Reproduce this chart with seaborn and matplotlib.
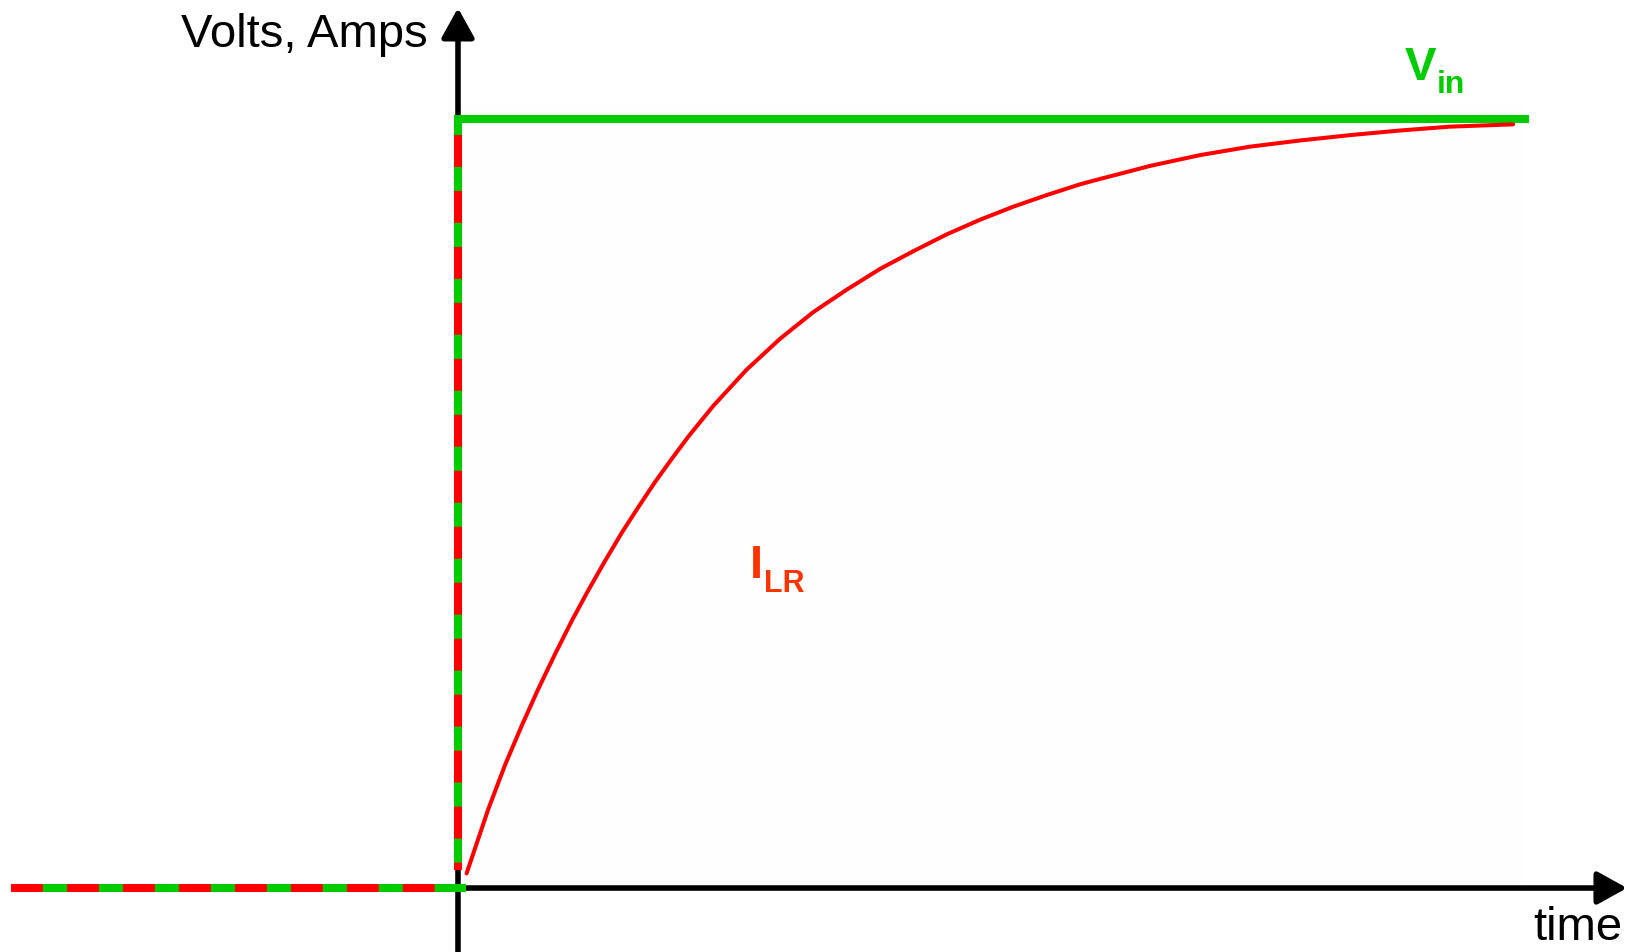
import matplotlib
matplotlib.use("Agg")
import matplotlib.pyplot as plt
import matplotlib.patches as mpatches
import numpy as np
import pandas as pd
import seaborn as sns

sns.set_theme(style="white")
plt.rcParams['font.family'] = ['Liberation Sans', 'DejaVu Sans']
plt.rcParams['lines.scale_dashes'] = False

# --- data (time in units of L/R, values as fraction of Vin) ---
t_start = -1.72          # left end of the pre-step trace
t_end_vin = 4.12         # right end of Vin
vin_level = 1.0

ilr_t = [0.033, 0.117, 0.181, 0.245, 0.309, 0.373, 0.437, 0.501, 0.565, 0.630,
         0.693, 0.758, 0.822, 0.886, 0.982, 1.110, 1.238, 1.367, 1.495, 1.623,
         1.751, 1.880, 2.008, 2.136, 2.264, 2.392, 2.469, 2.572, 2.662, 2.854,
         3.046, 3.238, 3.431, 3.623, 3.815, 4.058]
ilr_i = [0.019, 0.103, 0.160, 0.211, 0.259, 0.304, 0.347, 0.387, 0.425, 0.462,
         0.495, 0.528, 0.558, 0.587, 0.627, 0.674, 0.714, 0.749, 0.778, 0.805,
         0.828, 0.850, 0.869, 0.886, 0.901, 0.915, 0.922, 0.931, 0.939, 0.953,
         0.964, 0.972, 0.979, 0.985, 0.990, 0.993]

GREEN = "#00cc00"
RED = "#ff0000"
ILR_COLOR = "#ff3300"

W, H = 1637, 952
fig = plt.figure(figsize=(W / 100, H / 100), dpi=100)
ax = fig.add_axes([0, 0, 1, 1])
ax.set_xlim(-1.7615, 4.5346)
ax.set_ylim(-0.0832, 1.1547)
ax.axis("off")

# faint plot area
ax.add_patch(mpatches.Rectangle((0, 0), 4.10, 1.02, facecolor="#fefefe",
                                edgecolor="none", zorder=0))

# axes with arrow heads
arrow = dict(arrowstyle="-|>,head_length=0.9,head_width=0.5", lw=4, color="black",
             shrinkA=0, shrinkB=0, mutation_scale=20)
ax.annotate("", xy=(0, 1.1443), xytext=(0, -0.0832), arrowprops=arrow, zorder=1)
ax.annotate("", xy=(4.496, 0), xytext=(0, 0), arrowprops=arrow, zorder=1)

# Vin (green step)
lw_step = 5.8
pre = pd.DataFrame({"t": [t_start, 0.031], "v": [0, 0]})
step = pd.DataFrame({"t": [0, 0, t_end_vin], "v": [0.0234, vin_level, vin_level]})
sns.lineplot(data=pre, x="t", y="v", ax=ax, color=GREEN, lw=lw_step,
             estimator=None, sort=False, solid_capstyle="butt", zorder=2)
sns.lineplot(data=step, x="t", y="v", ax=ax, color=GREEN, lw=lw_step,
             estimator=None, sort=False, solid_capstyle="butt",
             solid_joinstyle="miter", zorder=2)

# red dashes on the shared parts of the trace
sns.lineplot(x=[t_start, 0], y=[0, 0], ax=ax, color=RED, lw=lw_step,
             estimator=None, sort=False, linestyle=(0, (23.0, 17.3)),
             dash_capstyle="butt", zorder=3)
sns.lineplot(x=[0, 0], y=[vin_level, 0.0234], ax=ax, color=RED, lw=lw_step,
             estimator=None, sort=False, linestyle=(28.8, (23.0, 17.3)),
             dash_capstyle="butt", zorder=3)

# I_LR curve
sns.lineplot(x=ilr_t, y=ilr_i, ax=ax, color=RED, lw=2.9, estimator=None,
             sort=False, zorder=3)

# labels
def fx(px):
    return px / W

def fy(py):
    return 1 - py / H

fig.text(fx(428), fy(47), "Volts, Amps", fontsize=34, ha="right", va="baseline",
         color="black")
fig.text(fx(1622), fy(940), "time", fontsize=34, ha="right", va="baseline",
         color="black")
fig.text(fx(1405), fy(80), "V", fontsize=34, fontweight="bold", ha="left",
         va="baseline", color=GREEN)
fig.text(fx(1437), fy(93), "in", fontsize=23, fontweight="bold", ha="left",
         va="baseline", color=GREEN)
fig.text(fx(750), fy(578), "I", fontsize=34, fontweight="bold", ha="left",
         va="baseline", color=ILR_COLOR)
fig.text(fx(764), fy(592), "LR", fontsize=22, fontweight="bold", ha="left",
         va="baseline", color=ILR_COLOR)

fig.savefig("out.png", dpi=100, facecolor="white")
